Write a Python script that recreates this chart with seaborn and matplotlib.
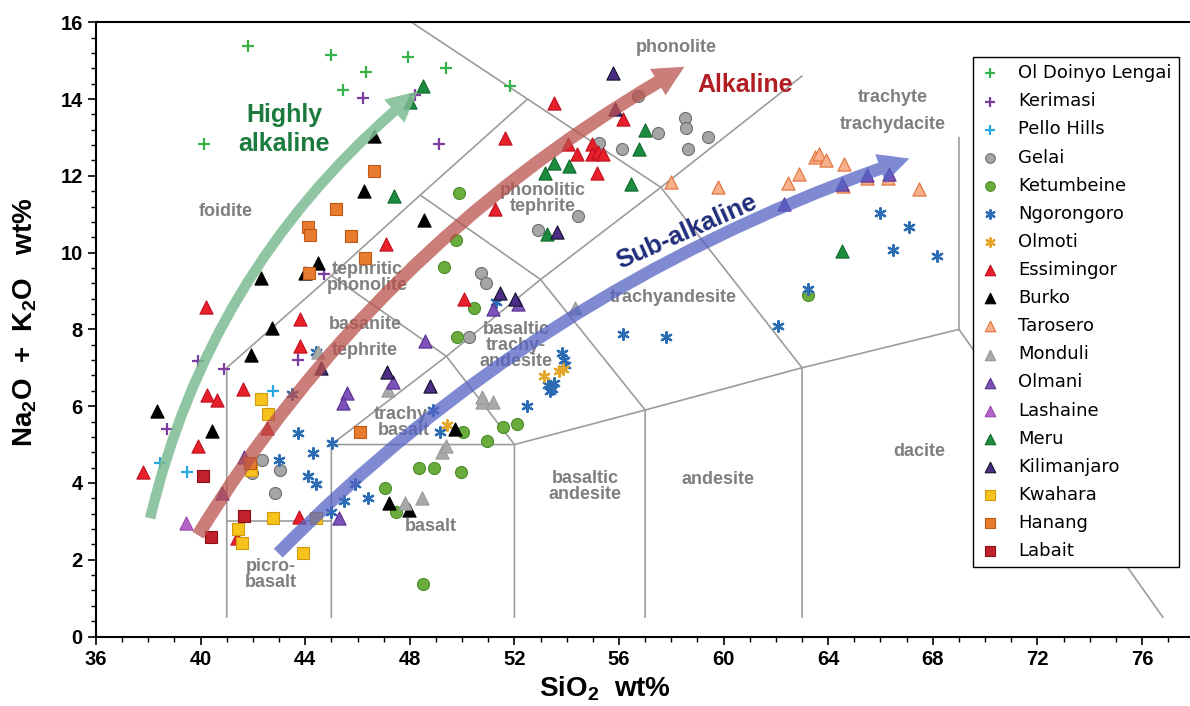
import matplotlib
matplotlib.use("Agg")
import matplotlib.pyplot as plt
import seaborn as sns
from matplotlib.patches import FancyArrowPatch
from matplotlib.ticker import MultipleLocator

# SiO2 (x) and Na2O+K2O (y), wt%
lengai_x = [41.8, 45.0, 46.33, 45.46, 47.95, 40.14, 49.38, 51.83]
lengai_y = [15.38, 15.14, 14.71, 14.23, 15.1, 12.82, 14.8, 14.34]

kerimasi_x = [46.22, 48.2, 49.13, 44.73, 43.74, 39.9, 40.9, 38.7]
kerimasi_y = [14.02, 14.1, 12.82, 9.44, 7.2, 7.17, 6.96, 5.4]

pello_x = [42.75, 38.45, 39.47]
pello_y = [6.4, 4.53, 4.29]

gelai_x = [42.34, 43.04, 41.98, 42.85, 52.89, 50.71, 50.91, 50.26, 56.74, 58.52,
           58.58, 59.39, 57.5, 56.13, 58.65, 55.23, 54.42]
gelai_y = [4.61, 4.35, 4.27, 3.75, 10.6, 9.48, 9.21, 7.79, 14.07, 13.51,
           13.25, 13.02, 13.12, 12.71, 12.69, 12.86, 10.96]

ketumbeine_x = [49.88, 49.75, 49.32, 50.46, 49.82, 51.58, 52.09, 50.05, 50.94, 48.36,
                48.93, 49.96, 47.05, 47.47, 48.52, 63.24]
ketumbeine_y = [11.56, 10.34, 9.63, 8.57, 7.81, 5.45, 5.53, 5.33, 5.1, 4.4,
                4.38, 4.28, 3.86, 3.25, 1.36, 8.89]

ngorongoro_x = [44.41, 43.48, 43.74, 43.0, 44.31, 45.01, 44.12, 44.41, 45.9, 45.48,
                46.41, 44.97, 51.3, 56.17, 57.78, 53.81, 53.9, 53.93, 53.3, 53.45,
                53.5, 53.35, 52.49, 48.9, 49.15, 65.98, 67.1, 66.49, 68.15, 63.24, 62.07]
ngorongoro_y = [7.42, 6.33, 5.31, 4.61, 4.79, 5.03, 4.18, 3.97, 3.97, 3.53,
                3.61, 3.25, 8.72, 7.88, 7.79, 7.38, 7.2, 7.07, 6.55, 6.45,
                6.6, 6.4, 6.0, 5.9, 5.33, 11.04, 10.67, 10.06, 9.91, 9.04, 8.09]

olmoti_x = [53.72, 53.87, 53.13, 49.41]
olmoti_y = [6.92, 6.96, 6.78, 5.51]

essimingor_x = [47.09, 40.2, 43.82, 43.8, 40.23, 40.62, 41.62, 42.53, 39.89, 37.81,
                43.77, 41.38, 50.07, 53.53, 56.17, 51.64, 54.06, 54.95, 54.38, 54.95,
                55.21, 55.4, 55.14, 51.24]
essimingor_y = [10.22, 8.59, 8.26, 7.57, 6.29, 6.16, 6.46, 5.44, 4.97, 4.29,
                3.12, 2.56, 8.78, 13.9, 13.49, 12.99, 12.82, 12.82, 12.58, 12.58,
                12.63, 12.58, 12.08, 11.13]

burko_x = [46.63, 46.25, 44.5, 43.99, 42.3, 42.72, 41.93, 38.35, 40.45, 47.22, 47.98, 48.55, 49.73]
burko_y = [13.03, 11.6, 9.73, 9.47, 9.33, 8.03, 7.33, 5.87, 5.35, 3.48, 3.29, 10.85, 5.4]

tarosero_x = [57.99, 59.8, 63.49, 63.66, 63.92, 64.62, 62.9, 62.48, 64.55, 67.48, 65.5, 66.3]
tarosero_y = [11.84, 11.71, 12.5, 12.58, 12.41, 12.3, 12.04, 11.82, 11.73, 11.65, 11.95, 11.95]

monduli_x = [44.5, 47.15, 47.82, 48.48, 49.22, 49.38, 54.32, 50.75, 51.19, 50.75]
monduli_y = [7.42, 6.42, 3.48, 3.6, 4.81, 4.96, 8.55, 6.11, 6.11, 6.24]

olmani_x = [47.34, 45.6, 45.46, 41.66, 40.8, 45.3, 51.19, 52.12, 48.58, 62.32, 64.53, 65.47, 66.34]
olmani_y = [6.64, 6.35, 6.09, 4.68, 3.75, 3.09, 8.52, 8.65, 7.7, 11.26, 11.78, 12.02, 12.04]

lashaine_x = [39.44]
lashaine_y = [2.95]

meru_x = [48.0, 48.5, 47.4, 53.23, 57.0, 56.76, 53.5, 54.1, 53.17, 56.46, 64.51]
meru_y = [13.93, 14.35, 11.48, 10.48, 13.19, 12.71, 12.34, 12.25, 12.08, 11.78, 10.04]

kilimanjaro_x = [44.6, 47.11, 51.45, 52.02, 53.61, 55.76, 55.85, 48.77]
kilimanjaro_y = [7.0, 6.9, 8.95, 8.78, 10.54, 14.68, 13.75, 6.52]

kwahara_x = [42.3, 42.56, 41.92, 42.75, 41.42, 41.57, 43.93, 44.41]
kwahara_y = [6.18, 5.79, 4.35, 3.09, 2.8, 2.43, 2.17, 3.09]

hanang_x = [46.63, 45.18, 44.12, 44.2, 45.74, 46.3, 44.16, 46.1, 41.9]
hanang_y = [12.12, 11.13, 10.67, 10.46, 10.44, 9.85, 9.47, 5.33, 4.51]

labait_x = [40.1, 41.67, 40.38]
labait_y = [4.18, 3.14, 2.58]

# TAS field boundaries (Le Bas et al.)
tas_lines = [
    [(41, 0.5), (41, 7), (45, 9.4), (48.4, 11.5), (52.5, 14)],
    [(45, 0.5), (45, 5), (49.4, 7.3), (53, 9.3), (57.6, 11.7), (63, 14.6)],
    [(41, 3), (45, 3)],
    [(45, 5), (52, 5), (57, 5.9), (63, 7), (69, 8), (69, 13)],
    [(52, 0.5), (52, 5), (49.4, 7.3), (45, 9.4)],
    [(57, 0.5), (57, 5.9), (53, 9.3), (48.4, 11.5)],
    [(63, 0.5), (63, 7), (57.6, 11.7), (48.07, 16)],
    [(69, 8), (76.8, 0.5)],
]

sns.set_style("ticks")
plt.rcParams['font.family'] = ['Liberation Sans', 'DejaVu Sans']
plt.rcParams['mathtext.fontset'] = 'custom'
plt.rcParams['mathtext.rm'] = 'Liberation Sans:bold'
plt.rcParams['mathtext.it'] = 'Liberation Sans:bold'
plt.rcParams['mathtext.bf'] = 'Liberation Sans:bold'
plt.rcParams['mathtext.default'] = 'rm'
plt.rcParams['text.color'] = 'black'
plt.rcParams['axes.labelcolor'] = 'black'
plt.rcParams['xtick.color'] = 'black'
plt.rcParams['ytick.color'] = 'black'

fig = plt.figure(figsize=(11.9, 7.06), dpi=100)
ax = fig.add_axes([96 / 1190, 1 - 636.5 / 706, 1094 / 1190, 614.2 / 706])

for line in tas_lines:
    xs = [p[0] for p in line]
    ys = [p[1] for p in line]
    ax.plot(xs, ys, color='#9c9c9c', lw=1.2, zorder=1)

plus = '+'
star = (6, 2, 0)
groups = [
    ("Ol Doinyo Lengai", lengai_x, lengai_y, plus, '#36b24a', None, 70),
    ("Kerimasi", kerimasi_x, kerimasi_y, plus, '#7a3da0', None, 70),
    ("Pello Hills", pello_x, pello_y, plus, '#27a9e1', None, 70),
    ("Gelai", gelai_x, gelai_y, 'o', '#a6a6a6', '#6e6e6e', 75),
    ("Ketumbeine", ketumbeine_x, ketumbeine_y, 'o', '#6aad3d', '#4e8a2a', 75),
    ("Ngorongoro", ngorongoro_x, ngorongoro_y, star, '#2b6cb5', None, 60),
    ("Olmoti", olmoti_x, olmoti_y, star, '#e5a526', None, 60),
    ("Essimingor", essimingor_x, essimingor_y, '^', '#e8202a', '#c01020', 90),
    ("Burko", burko_x, burko_y, '^', '#000000', '#000000', 90),
    ("Tarosero", tarosero_x, tarosero_y, '^', '#f7b08a', '#e0703a', 90),
    ("Monduli", monduli_x, monduli_y, '^', '#a9a9a9', '#999999', 90),
    ("Olmani", olmani_x, olmani_y, '^', '#7b52b8', '#5a3090', 90),
    ("Lashaine", lashaine_x, lashaine_y, '^', '#b565c7', '#9a4aad', 90),
    ("Meru", meru_x, meru_y, '^', '#1c8a3f', '#106b2c', 90),
    ("Kilimanjaro", kilimanjaro_x, kilimanjaro_y, '^', '#4b2d85', '#15102a', 90),
    ("Kwahara", kwahara_x, kwahara_y, 's', '#f7c21c', '#d09a10', 75),
    ("Hanang", hanang_x, hanang_y, 's', '#e87b2d', '#c05a18', 75),
    ("Labait", labait_x, labait_y, 's', '#c2202b', '#8a1018', 75),
]

for name, xs, ys, mk, fc, ec, size in groups:
    if ec is None:
        sns.scatterplot(x=xs, y=ys, marker=mk, s=size, color=fc, edgecolor=None,
                        linewidth=1.6, label=name, ax=ax, zorder=3)
    else:
        sns.scatterplot(x=xs, y=ys, marker=mk, s=size, color=fc, edgecolor=ec,
                        linewidth=0.8, label=name, ax=ax, zorder=3)


def curved_arrow(p0, p1, rad, color, alpha, tail):
    arr = FancyArrowPatch(p0, p1, connectionstyle=f"arc3,rad={rad}",
                          arrowstyle=f"simple,head_length=22,head_width=22,tail_width={tail}",
                          mutation_scale=1, color=color, alpha=alpha, lw=0,
                          shrinkA=0, shrinkB=0, zorder=4)
    ax.add_patch(arr)


curved_arrow((38.07, 3.08), (48.3, 14.2), -0.17, '#7dbb93', 0.85, 7.5)
curved_arrow((39.9, 2.64), (58.5, 14.84), -0.13, '#b9524c', 0.75, 9.5)
curved_arrow((42.97, 2.17), (67.1, 12.45), -0.12, '#5563c4', 0.75, 9.0)

ax.text(43.2, 13.21, "Highly\nalkaline", color='#1b7a3d', fontsize=18, fontweight='bold',
        ha='center', va='center', linespacing=1.25, zorder=6)
ax.text(60.82, 14.36, "Alkaline", color='#b01e23', fontsize=18, fontweight='bold',
        ha='center', va='center', zorder=6)
ax.text(58.6, 10.55, "Sub-alkaline", color='#1f2d7a', fontsize=18.5, fontweight='bold',
        ha='center', va='center', rotation=24, rotation_mode='anchor', zorder=6)

fields = [
    ("foidite", 40.97, 11.08),
    ("phonolite", 58.2, 15.34),
    ("phonolitic\ntephrite", 53.08, 11.42),
    ("tephritic\nphonolite", 46.36, 9.34),
    ("basanite", 46.29, 8.14),
    ("tephrite", 46.29, 7.46),
    ("trachy-\nbasalt", 47.78, 5.58),
    ("basaltic\ntrachy-\nandesite", 52.06, 7.57),
    ("trachyandesite", 58.08, 8.83),
    ("trachyte", 66.46, 14.04),
    ("trachydacite", 66.46, 13.35),
    ("picro-\nbasalt", 42.7, 1.62),
    ("basalt", 48.8, 2.86),
    ("basaltic\nandesite", 54.7, 3.91),
    ("andesite", 59.8, 4.09),
    ("dacite", 67.48, 4.81),
]
for txt, fx, fy in fields:
    ax.text(fx, fy, txt, color='#7f7f7f', fontsize=13, fontweight='bold',
            ha='center', va='center', linespacing=0.92, zorder=2)

ax.set_xlim(36, 36 + 1094 / 26.15)
ax.set_ylim(0, 16)
ax.xaxis.set_major_locator(MultipleLocator(4))
ax.xaxis.set_minor_locator(MultipleLocator(1))
ax.yaxis.set_major_locator(MultipleLocator(2))
ax.yaxis.set_minor_locator(MultipleLocator(0.4))
ax.tick_params(which='major', direction='out', length=6, width=1.2, labelsize=14.5,
               colors='black')
ax.tick_params(which='minor', direction='out', length=3.5, width=1.0, colors='black')
plt.setp(ax.get_xticklabels(), fontweight='bold')
plt.setp(ax.get_yticklabels(), fontweight='bold')
for side in ['left', 'bottom', 'top']:
    ax.spines[side].set_linewidth(1.5)
    ax.spines[side].set_color('black')
ax.spines['right'].set_visible(False)

ax.set_xlabel('SiO$_2$  wt%', fontsize=20, fontweight='bold', color='black')
ax.set_ylabel('Na$_2$O  +  K$_2$O   wt%', fontsize=20, fontweight='bold', color='black')
ax.xaxis.set_label_coords(0.465, -0.062)
ax.yaxis.set_label_coords(-0.052, 0.512)

leg = ax.legend(loc='upper left', bbox_to_anchor=(0.8016, 0.9435), borderaxespad=0,
                frameon=True, fancybox=False, framealpha=1, edgecolor='black',
                prop={'family': 'DejaVu Sans', 'size': 13}, labelspacing=0.56,
                handlelength=1.1, handletextpad=1.0, borderpad=0.4, markerscale=0.8)
leg.get_frame().set_linewidth(1.0)
leg.set_zorder(10)
for t in leg.get_texts():
    t.set_color('black')

fig.savefig("out.png", dpi=100)
